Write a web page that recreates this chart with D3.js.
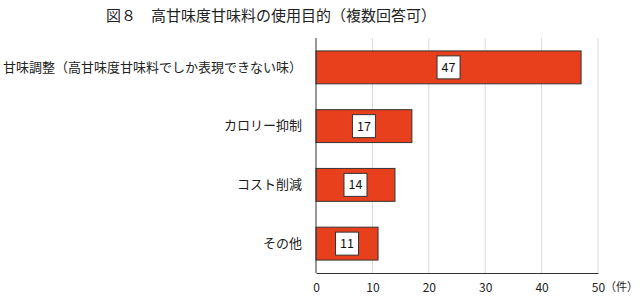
<!DOCTYPE html>
<html>
<head>
<meta charset="utf-8">
<script src="https://cdn.jsdelivr.net/npm/d3@7"></script>
<style>
  body { margin: 0; background: #fff; }
  svg { display: block; font-family: "Noto Sans CJK JP", sans-serif; }
</style>
</head>
<body>
<svg id="chart" width="640" height="297"></svg>
<script>
// data
const categories = [
  '甘味調整（高甘味度甘味料でしか表現できない味）',
  'カロリー抑制',
  'コスト削減',
  'その他'
];
const counts = [47, 17, 14, 11];
const xTicks = [0, 10, 20, 30, 40, 50];

const svg = d3.select('#chart');
const margin = { top: 38, right: 42, bottom: 24, left: 316 };
const width = 640 - margin.left - margin.right;
const height = 297 - margin.top - margin.bottom;

svg.append('text')
  .attr('x', 106)
  .attr('y', 21)
  .attr('font-size', 15)
  .attr('fill', '#222')
  .text('図８　高甘味度甘味料の使用目的（複数回答可）');

const g = svg.append('g').attr('transform', `translate(${margin.left},${margin.top})`);

const x = d3.scaleLinear().domain([0, 50]).range([0, width]);
const y = d3.scaleBand().domain(categories).range([0, height]).paddingInner(0.44).paddingOuter(0.22);

// grid
g.selectAll('line.grid')
  .data(xTicks.slice(1))
  .join('line')
  .attr('class', 'grid')
  .attr('x1', d => x(d)).attr('x2', d => x(d))
  .attr('y1', 0).attr('y2', height)
  .attr('stroke', '#d9d9d9')
  .attr('stroke-width', 1);

// bars
g.selectAll('rect.bar')
  .data(counts)
  .join('rect')
  .attr('class', 'bar')
  .attr('x', 0)
  .attr('y', (d, i) => y(categories[i]))
  .attr('width', d => x(d))
  .attr('height', y.bandwidth())
  .attr('fill', '#e8401c')
  .attr('stroke', '#333')
  .attr('stroke-width', 1);

// value boxes
const lab = g.selectAll('g.val')
  .data(counts)
  .join('g')
  .attr('class', 'val')
  .attr('transform', (d, i) => `translate(${x(d) / 2},${y(categories[i]) + y.bandwidth() / 2})`);
lab.append('rect')
  .attr('x', -11.5).attr('y', -11.5)
  .attr('width', 23).attr('height', 23)
  .attr('fill', '#fff')
  .attr('stroke', '#333')
  .attr('stroke-width', 1);
lab.append('text')
  .attr('text-anchor', 'middle')
  .attr('dy', '0.36em')
  .attr('font-size', 12.5)
  .attr('fill', '#111')
  .text(d => d);

// axes
const xAxis = g.append('g')
  .attr('transform', `translate(0,${height})`)
  .call(d3.axisBottom(x).tickValues(xTicks).tickSize(0).tickPadding(10));
xAxis.select('.domain').attr('stroke', '#333');
xAxis.selectAll('text').attr('font-size', 12).attr('fill', '#222').attr('font-family', '"Noto Sans CJK JP", sans-serif');

const yAxis = g.append('g')
  .call(d3.axisLeft(y).tickSize(0).tickPadding(14));
yAxis.select('.domain').attr('stroke', '#333').attr('d', `M0,0V${height}`);
yAxis.selectAll('text').attr('font-size', 13).attr('fill', '#222').attr('font-family', '"Noto Sans CJK JP", sans-serif');

g.append('text')
  .attr('x', width + 7)
  .attr('y', height + 10)
  .attr('dy', '0.71em')
  .attr('font-size', 11.5)
  .attr('textLength', 33)
  .attr('lengthAdjust', 'spacingAndGlyphs')
  .attr('fill', '#222')
  .text('（件）');
</script>
</body>
</html>
